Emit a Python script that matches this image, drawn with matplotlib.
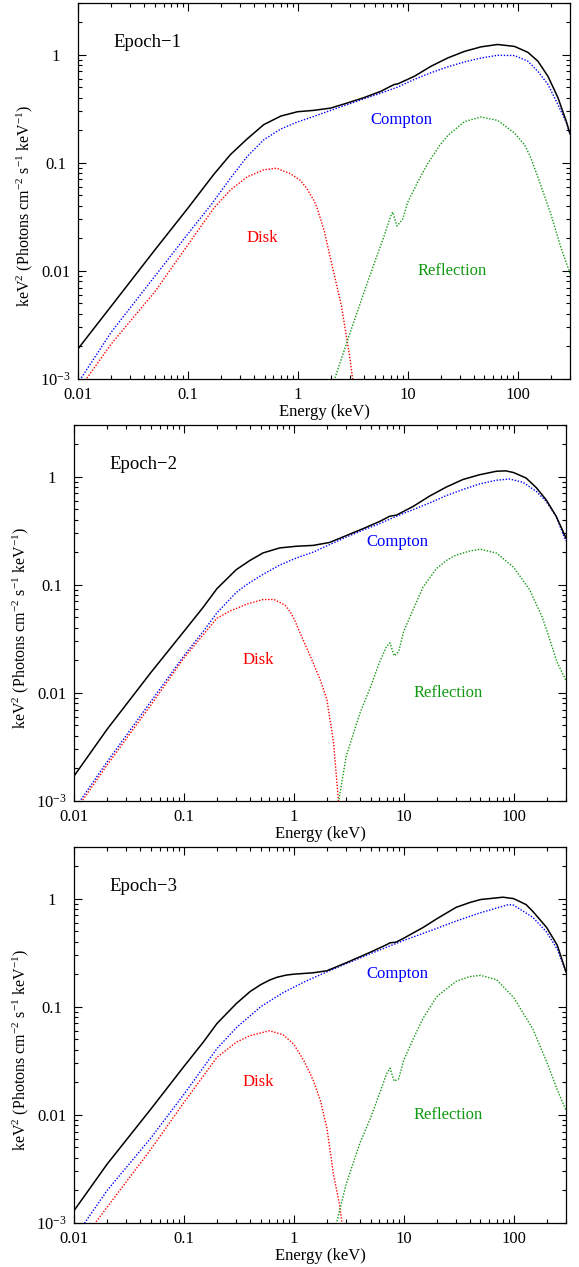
import matplotlib
matplotlib.use("Agg")
import matplotlib.pyplot as plt
import numpy as np
from matplotlib.ticker import FixedLocator, FixedFormatter, LogLocator, NullFormatter

plt.rcParams['font.family'] = ['Liberation Serif', 'DejaVu Serif']
plt.rcParams['mathtext.fontset'] = 'custom'
plt.rcParams['mathtext.rm'] = 'Liberation Serif'
plt.rcParams['mathtext.it'] = 'Liberation Serif:italic'

# ---- Epoch-1 ----
e1_tot = [0.01, 0.02, 0.05, 0.1, 0.172, 0.244, 0.346, 0.49, 0.70, 0.99, 1.40, 1.99, 2.83, 4.0, 5.69,
          7.0, 7.6, 8.1, 11.5, 16.3, 23.1, 32.8, 46.6, 66, 93.8, 124, 153, 189, 233, 278, 300]
f1_tot = [1.9e-3, 4.7e-3, 0.0156, 0.038, 0.078, 0.119, 0.166, 0.225, 0.27, 0.296, 0.305, 0.32, 0.357, 0.40, 0.457,
          0.51, 0.53, 0.535, 0.63, 0.78, 0.93, 1.07, 1.18, 1.24, 1.19, 1.05, 0.87, 0.63, 0.40, 0.24, 0.185]
e1_comp = [0.01, 0.02, 0.05, 0.1, 0.166, 0.244, 0.346, 0.49, 0.70, 0.99, 1.40, 1.99, 2.83, 4.0, 5.69,
           8.09, 11.5, 16.3, 23.1, 32.8, 46.6, 66, 93.8, 124, 153, 189, 233, 278, 300]
f1_comp = [9.2e-4, 2.7e-3, 8.9e-3, 0.022, 0.042, 0.072, 0.114, 0.163, 0.205, 0.238, 0.268, 0.305, 0.345, 0.39, 0.44,
           0.50, 0.59, 0.68, 0.77, 0.855, 0.93, 0.985, 0.98, 0.87, 0.70, 0.53, 0.345, 0.235, 0.185]
e1_disk = [0.01, 0.02, 0.05, 0.1, 0.172, 0.244, 0.346, 0.49, 0.64, 0.86, 1.05, 1.19, 1.40, 1.5, 1.75, 2, 2.5, 3, 3.3]
f1_disk = [7.8e-4, 2.1e-3, 6.4e-3, 0.0174, 0.038, 0.056, 0.074, 0.086, 0.089, 0.079, 0.069, 0.059, 0.045, 0.038,
           0.023, 0.0126, 0.0047, 0.0015, 7e-4]
e1_refl = [2.0, 2.2, 3, 4, 5, 6, 7, 7.3, 8.0, 9, 10, 12.5, 15, 19.4, 23.1, 32.8, 46.6, 66, 93.8, 116, 130,
           150, 175, 200, 250, 300]
f1_refl = [8e-4, 1.05e-3, 0.0027, 0.0063, 0.012, 0.020, 0.032, 0.035, 0.026, 0.030, 0.043, 0.068, 0.096, 0.143,
           0.178, 0.24, 0.265, 0.246, 0.188, 0.146, 0.115, 0.078, 0.05, 0.034, 0.016, 0.0095]

# ---- Epoch-2 ----
e2_tot = [0.01, 0.02, 0.05, 0.1, 0.15, 0.2, 0.3, 0.4, 0.526, 0.746, 1.06, 1.5, 2.12, 3.01, 4.27, 6.05,
          7.46, 8.58, 12.2, 17.2, 24.4, 34.6, 49, 69.6, 85, 100, 130, 161, 198, 244, 291, 300]
f2_tot = [1.7e-3, 4.6e-3, 0.0154, 0.037, 0.062, 0.092, 0.138, 0.168, 0.197, 0.219, 0.227, 0.231, 0.246, 0.285,
          0.33, 0.385, 0.43, 0.44, 0.53, 0.66, 0.80, 0.94, 1.04, 1.12, 1.13, 1.09, 0.97, 0.79, 0.61, 0.43, 0.29, 0.27]
e2_comp = [0.01, 0.02, 0.05, 0.1, 0.15, 0.2, 0.3, 0.371, 0.526, 0.746, 1.06, 1.5, 2.12, 3.01, 4.27, 6.05, 8.58,
           12.2, 17.2, 24.4, 34.6, 49, 69.6, 92, 122, 161, 198, 244, 291, 300]
f2_comp = [8.3e-4, 2.3e-3, 8.3e-3, 0.022, 0.037, 0.055, 0.085, 0.10, 0.125, 0.152, 0.177, 0.20, 0.235, 0.276, 0.32,
           0.367, 0.43, 0.495, 0.57, 0.667, 0.76, 0.855, 0.925, 0.95, 0.885, 0.73, 0.59, 0.43, 0.27, 0.255]
e2_disk = [0.01, 0.02, 0.05, 0.1, 0.2, 0.262, 0.371, 0.526, 0.66, 0.83, 0.93, 1.02, 1.1, 1.25, 1.5, 1.75,
           2, 2.3, 2.55, 2.65]
f2_disk = [7.8e-4, 2.15e-3, 7.7e-3, 0.021, 0.049, 0.057, 0.066, 0.073, 0.073, 0.065, 0.056, 0.047, 0.039,
           0.029, 0.019, 0.013, 0.0087, 0.0035, 1.0e-3, 7e-4]
e2_refl = [2.5, 2.6, 3, 4, 5, 6, 7, 7.5, 8.2, 9, 10, 12.2, 15, 20, 25, 30, 40, 50, 70, 100, 140, 181, 200, 250, 300]
f2_refl = [8e-4, 1.1e-3, 0.0026, 0.0065, 0.0114, 0.019, 0.027, 0.029, 0.022, 0.024, 0.037, 0.059, 0.095,
           0.142, 0.17, 0.188, 0.205, 0.213, 0.196, 0.145, 0.09, 0.051, 0.038, 0.019, 0.013]

# ---- Epoch-3 ----
e3_tot = [0.01, 0.02, 0.05, 0.1, 0.15, 0.2, 0.3, 0.4, 0.5, 0.6, 0.7, 0.85, 1, 1.5, 2, 3, 5, 7, 7.5, 8.5, 10, 15,
          20, 30, 40, 50, 80, 100, 130, 150, 200, 250, 300]
f3_tot = [1.3e-3, 3.5e-3, 0.0113, 0.028, 0.047, 0.07, 0.107, 0.138, 0.16, 0.176, 0.187, 0.196, 0.20, 0.206,
          0.215, 0.255, 0.32, 0.375, 0.39, 0.395, 0.43, 0.54, 0.65, 0.83, 0.92, 0.98, 1.03, 1.0, 0.88, 0.76,
          0.54, 0.37, 0.21]
e3_comp = [0.01, 0.02, 0.05, 0.1, 0.2, 0.3, 0.5, 0.8, 1.25, 2, 3, 5, 10, 20, 30, 50, 90, 100, 150, 200, 250, 300]
f3_comp = [7.2e-4, 2.0e-3, 6.1e-3, 0.0155, 0.041, 0.064, 0.10, 0.135, 0.17, 0.21, 0.25, 0.31, 0.41, 0.53,
           0.62, 0.74, 0.88, 0.87, 0.67, 0.49, 0.34, 0.21]
e3_disk = [0.01, 0.02, 0.05, 0.1, 0.2, 0.3, 0.4, 0.6, 0.8, 1, 1.25, 1.5, 1.75, 2, 2.3, 2.6, 2.75, 2.85]
f3_disk = [5.5e-4, 1.4e-3, 4.8e-3, 0.013, 0.034, 0.047, 0.054, 0.060, 0.055, 0.045, 0.031, 0.021, 0.0135,
           0.0076, 0.0028, 1.5e-3, 1e-3, 7e-4]
e3_refl = [2.4, 2.45, 3, 4, 5, 6, 7, 7.5, 8.2, 9, 10, 12.5, 15, 20, 30, 40, 50, 70, 100, 150, 200, 250, 300]
f3_refl = [8e-4, 1e-3, 0.0023, 0.0055, 0.0094, 0.0155, 0.024, 0.027, 0.0205, 0.0215, 0.032, 0.053, 0.078, 0.124,
           0.172, 0.19, 0.195, 0.178, 0.122, 0.062, 0.031, 0.017, 0.011]

epoch_names = ['Epoch\u22121', 'Epoch\u22122', 'Epoch\u22123']
ytick_vals = [1e-3, 1e-2, 1e-1, 1]
ytick_text = ['10$^{\\mathregular{-3}}$', '0.01', '0.1', '1']
xtick_vals = [0.01, 0.1, 1, 10, 100]
xtick_text = ['0.01', '0.1', '1', '10', '100']

panels = [
    (e1_tot, f1_tot, e1_comp, f1_comp, e1_disk, f1_disk, e1_refl, f1_refl),
    (e2_tot, f2_tot, e2_comp, f2_comp, e2_disk, f2_disk, e2_refl, f2_refl),
    (e3_tot, f3_tot, e3_comp, f3_comp, e3_disk, f3_disk, e3_refl, f3_refl),
]

W, H = 579, 1267
# axes boxes in pixels: left, top, right, bottom
boxes = [(78, 3, 570, 379), (74, 425, 566, 801), (74, 847, 566, 1223)]
comp_ypos = [0.689, 0.689, 0.662]

GREEN = '#119911'
dots = (0, (1, 1.2))

fig = plt.figure(figsize=(W / 100, H / 100), dpi=100)

for i, (box, data) in enumerate(zip(boxes, panels)):
    l, t, r, b = box
    ax = fig.add_axes([l / W, 1 - b / H, (r - l) / W, (b - t) / H])
    et, ft, ec, fc, ed, fd, er, fr = data
    ax.plot(ec, fc, color='blue', lw=1.0, linestyle=dots)
    ax.plot(ed, fd, color='red', lw=1.0, linestyle=dots)
    ax.plot(er, fr, color=GREEN, lw=1.0, linestyle=dots)
    ax.plot(et, ft, color='black', lw=1.1)

    ax.set_xscale('log')
    ax.set_yscale('log')
    ax.set_xlim(0.01, 300)
    ax.set_ylim(1e-3, 3)

    ax.xaxis.set_major_locator(FixedLocator(xtick_vals))
    ax.xaxis.set_major_formatter(FixedFormatter(xtick_text))
    ax.xaxis.set_minor_locator(LogLocator(base=10, subs=np.arange(2, 10)))
    ax.xaxis.set_minor_formatter(NullFormatter())
    ax.yaxis.set_major_locator(FixedLocator(ytick_vals))
    ax.yaxis.set_major_formatter(FixedFormatter(ytick_text))
    ax.yaxis.set_minor_locator(LogLocator(base=10, subs=np.arange(2, 10)))
    ax.yaxis.set_minor_formatter(NullFormatter())

    ax.tick_params(which='both', direction='in', top=True, right=True, width=0.8)
    ax.tick_params(which='major', length=6)
    ax.tick_params(which='minor', length=3.2)
    ax.tick_params(axis='x', which='major', labelsize=12, pad=6)
    ax.tick_params(axis='y', which='major', labelsize=12, pad=16)
    for lab in ax.get_yticklabels():
        lab.set_ha('center')
    for s in ax.spines.values():
        s.set_linewidth(0.9)

    ax.set_xlabel('Energy (keV)', fontsize=12)
    ax.xaxis.set_label_coords(0.5, -0.066)
    ax.set_ylabel('keV$^{\\mathregular{2}}$ (Photons cm$^{\\mathregular{-2}}$ s$^{\\mathregular{-1}}$ keV$^{\\mathregular{-1}}$)',
                  fontsize=11.5)
    ax.yaxis.label.set_va('center')
    ax.yaxis.set_label_coords(-0.109, 0.46)

    ax.text(0.142, 0.894, epoch_names[i], transform=ax.transAxes, fontsize=13.5,
            ha='center', va='center')
    ax.text(0.657, comp_ypos[i], 'Compton', transform=ax.transAxes, fontsize=12,
            color='blue', ha='center', va='center')
    ax.text(0.374, 0.374, 'Disk', transform=ax.transAxes, fontsize=12,
            color='red', ha='center', va='center')
    ax.text(0.761, 0.286, 'Reflection', transform=ax.transAxes, fontsize=12,
            color=GREEN, ha='center', va='center')

fig.savefig('out.png', dpi=100)
